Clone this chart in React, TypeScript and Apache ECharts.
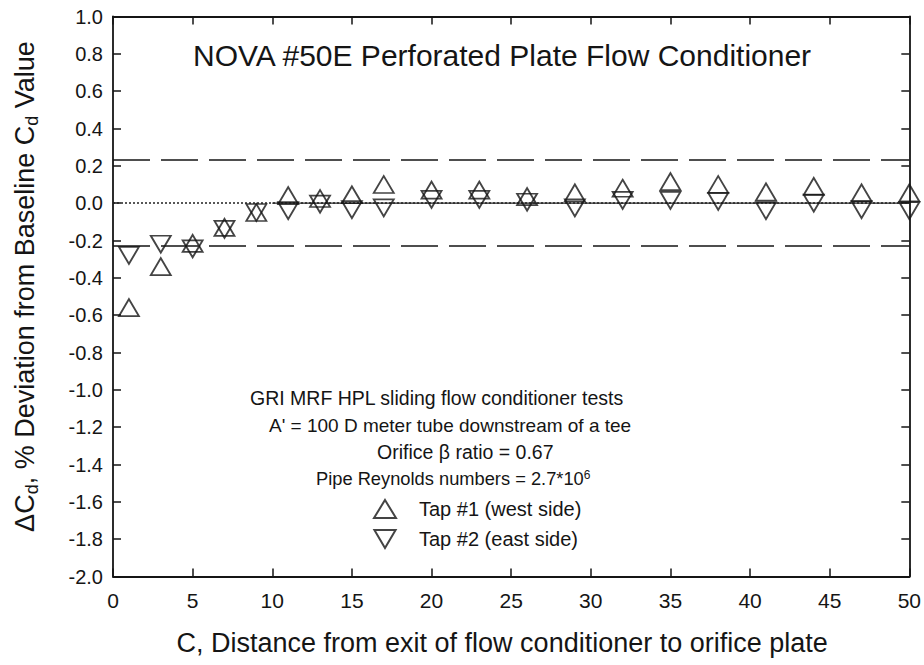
import React, { useEffect, useRef } from "react";
import * as echarts from "echarts";

// Distances C (pipe diameters) at which both taps were measured
const distances = [1, 3, 5, 7, 9, 11, 13, 15, 17, 20, 23, 26, 29, 32, 35, 38, 41, 44, 47, 50];
// Tap #1 (west side) deviation, %
const tap1 = [-0.56, -0.34, -0.215, -0.13, -0.05, 0.04, 0.025, 0.045, 0.1, 0.07, 0.07, 0.035, 0.055, 0.08, 0.115, 0.1, 0.06, 0.09, 0.055, 0.055];
// Tap #2 (east side) deviation, %
const tap2 = [-0.28, -0.22, -0.245, -0.14, -0.05, -0.04, -0.005, -0.035, -0.025, 0.02, 0.02, 0.005, -0.025, 0.015, 0.015, 0.01, -0.04, 0.0, -0.035, -0.04];
// Reference lines
const toleranceBand = [0.23, -0.23];
const baselineValue = 0;
const fitStart = 10;
const fitEnd = 50;

const FONT = "'Liberation Sans', Arial, Helvetica, sans-serif";
const INK = "#151515";

export default function App() {
  const ref = useRef<HTMLDivElement>(null);
  useEffect(() => {
    if (!ref.current) return;
    const chart = echarts.init(ref.current, undefined, { renderer: "svg" });
    const symStyle = { color: "rgba(0,0,0,0)", borderColor: INK, borderWidth: 1.8 };
    const tickInside = { show: true, inside: true, length: 8, lineStyle: { color: INK, width: 1.5 } };
    const axisLine = { show: true, onZero: false, lineStyle: { color: INK, width: 1.8 } };
    const option: any = {
      animation: false,
      backgroundColor: "#ffffff",
      title: {
        text: "NOVA #50E Perforated Plate Flow Conditioner",
        left: 193,
        top: 40,
        padding: 0,
        textStyle: { fontFamily: FONT, fontSize: 30, fontWeight: "normal", color: INK },
      },
      grid: { left: 113, right: 12, top: 16.5, bottom: 88.5, containLabel: false },
      legend: {
        data: [
          { name: "Tap #1 (west side)", icon: "triangle" },
          { name: "Tap #2 (east side)", icon: "path://M0,0L20,0L10,17Z" },
        ],
        orient: "vertical",
        left: 373,
        top: 499,
        padding: 0,
        itemWidth: 22,
        itemHeight: 18,
        itemGap: 10,
        textStyle: { fontFamily: FONT, fontSize: 20, color: INK, padding: [0, 0, 0, 18] },
      },
      xAxis: [
        {
          type: "value",
          min: 0,
          max: 50,
          interval: 5,
          name: "C, Distance from exit of flow conditioner to orifice plate",
          nameLocation: "middle",
          nameGap: 53,
          nameTextStyle: { fontFamily: FONT, fontSize: 27, color: INK, padding: [0, 18, 0, 0] },
          axisLine,
          axisTick: tickInside,
          axisLabel: { fontFamily: FONT, fontSize: 21, color: INK, margin: 13 },
          splitLine: { show: false },
        },
        {
          type: "value",
          position: "top",
          min: 0,
          max: 50,
          interval: 5,
          axisLine,
          axisTick: tickInside,
          axisLabel: { show: false },
          splitLine: { show: false },
        },
      ],
      yAxis: [
        {
          type: "value",
          min: -2,
          max: 1,
          interval: 0.2,
          name: "ΔC{sub|d}, % Deviation from Baseline C{sub|d} Value",
          nameLocation: "middle",
          nameRotate: 90,
          nameGap: 72,
          nameTextStyle: {
            fontFamily: FONT,
            fontSize: 27,
            color: INK,
            padding: [0, 0, 0, 20],
            rich: { sub: { fontFamily: FONT, fontSize: 18, color: INK, verticalAlign: "bottom", padding: [14, 0, 0, 0] } },
          },
          axisLine,
          axisTick: tickInside,
          axisLabel: {
            fontFamily: FONT,
            fontSize: 20,
            color: INK,
            margin: 10,
            formatter: (v: number) => (Math.round(v * 10) / 10).toFixed(1),
          },
          splitLine: { show: false },
        },
        {
          type: "value",
          position: "right",
          min: -2,
          max: 1,
          interval: 0.2,
          axisLine,
          axisTick: tickInside,
          axisLabel: { show: false },
          splitLine: { show: false },
        },
      ],
      graphic: [
        { type: "text", left: 250, top: 388, style: { text: "GRI MRF HPL sliding flow conditioner tests", font: `19.5px ${FONT}`, fill: INK } },
        { type: "text", left: 269, top: 416, style: { text: "A' = 100 D meter tube downstream of a tee", font: `19px ${FONT}`, fill: INK } },
        { type: "text", left: 377, top: 442, style: { text: "Orifice β ratio = 0.67", font: `19.5px ${FONT}`, fill: INK } },
        {
          type: "text",
          left: 316,
          top: 469,
          style: {
            text: "Pipe Reynolds numbers = 2.7*10{sup|6}",
            font: `18.3px ${FONT}`,
            fill: INK,
            rich: { sup: { fontSize: 12, fontFamily: FONT, fill: INK, verticalAlign: "top" } },
          },
        },
      ],
      series: [
        {
          name: "Tap #1 (west side)",
          type: "scatter",
          symbol: "triangle",
          symbolSize: [20, 17],
          itemStyle: symStyle,
          data: distances.map((d, i) => [d, tap1[i]]),
          z: 5,
          markLine: {
            silent: true,
            symbol: "none",
            label: { show: false },
            lineStyle: { color: INK, width: 1.6, type: [37, 11] },
            data: toleranceBand.map((v) => ({ yAxis: v })),
          },
        },
        {
          name: "Tap #2 (east side)",
          type: "scatter",
          symbol: "triangle",
          symbolRotate: 180,
          symbolSize: [20, 17],
          itemStyle: symStyle,
          data: distances.map((d, i) => [d, tap2[i]]),
          z: 5,
          markLine: {
            silent: true,
            symbol: "none",
            label: { show: false },
            lineStyle: { color: "#222", width: 1.7, type: [2, 2] },
            data: [{ yAxis: baselineValue }],
          },
        },
        {
          name: "fit",
          type: "line",
          symbol: "none",
          lineStyle: { color: "#222", width: 1.2 },
          data: [
            [fitStart, baselineValue],
            [fitEnd, baselineValue],
          ],
          z: 3,
        },
      ],
    };
    chart.setOption(option);
    return () => chart.dispose();
  }, []);
  return <div ref={ref} style={{ position: "absolute", left: 0, top: 0, width: 924, height: 665 }} />;
}
